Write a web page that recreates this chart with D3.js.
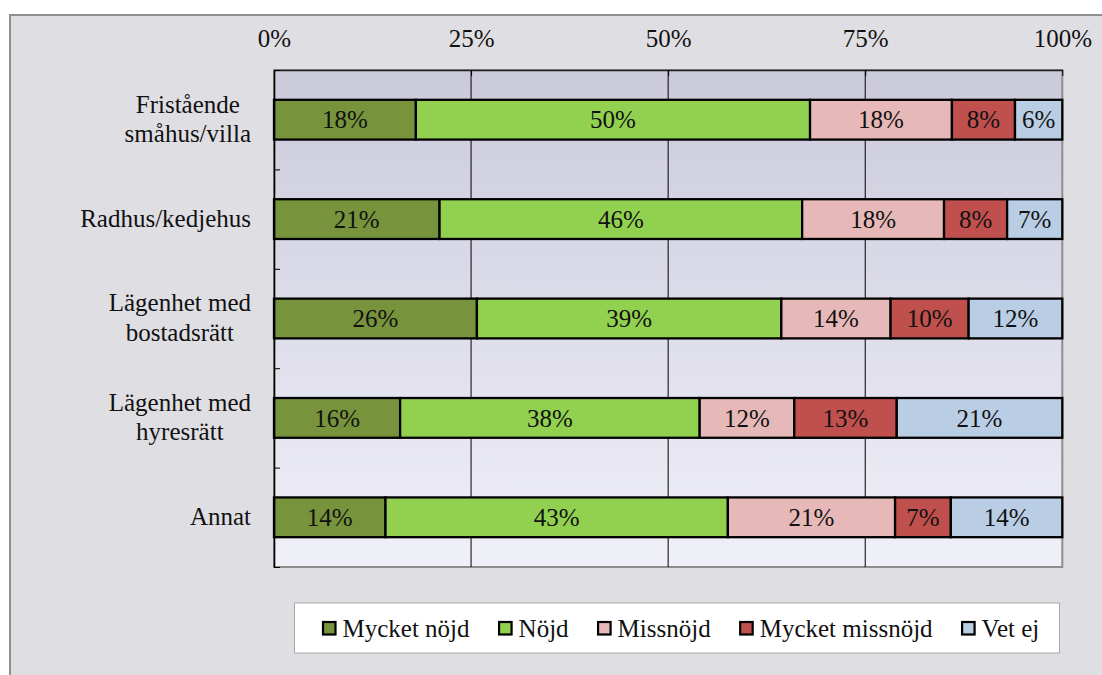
<!DOCTYPE html>
<html lang="sv">
<head>
<meta charset="utf-8">
<script src="https://cdn.jsdelivr.net/npm/d3@7"></script>
<style>
  html, body { margin: 0; padding: 0; background: #ffffff; }
  svg { display: block; }
  text { font-family: "Liberation Serif", "Tinos", "Times New Roman", "DejaVu Serif", serif; fill: #111; }
</style>
</head>
<body>
<svg id="chart" width="1102" height="675"></svg>
<script>
// Boendeform och nöjdhet (andel svar per kategori)
const categories = [
  "Fristående\nsmåhus/villa",
  "Radhus/kedjehus",
  "Lägenhet med\nbostadsrätt",
  "Lägenhet med\nhyresrätt",
  "Annat"
];
const seriesNames = ["Mycket nöjd", "Nöjd", "Missnöjd", "Mycket missnöjd", "Vet ej"];
const mycketNojd     = [18, 21, 26, 16, 14];
const nojd           = [50, 46, 39, 38, 43];
const missnojd       = [18, 18, 14, 12, 21];
const mycketMissnojd = [8, 8, 10, 13, 7];
const vetEj          = [6, 7, 12, 21, 14];
const tickLabels = ["0%", "25%", "50%", "75%", "100%"];
const seriesColors = ["#77933c", "#92d050", "#e6b9b8", "#c0504d", "#b9cde5"];

const FONT = "'Liberation Serif', 'Tinos', 'Times New Roman', 'DejaVu Serif', serif";

const seriesValues = [mycketNojd, nojd, missnojd, mycketMissnojd, vetEj];
const rows = categories.map((c, i) => {
  const r = { category: c };
  seriesNames.forEach((s, k) => { r[s] = seriesValues[k][i]; });
  return r;
});

const svg = d3.select("#chart");

// Diagramyta
svg.append("rect")
  .attr("x", 10).attr("y", 15).attr("width", 1110).attr("height", 680)
  .attr("fill", "#dfdee3").attr("stroke", "#8f8f8f").attr("stroke-width", 2);

const plot = { left: 274, top: 70, right: 1062.3, bottom: 567 };

const x = d3.scaleLinear().domain([0, 1]).range([plot.left, plot.right]);
const y = d3.scaleBand().domain(categories).range([plot.top, plot.bottom])
  .paddingInner(0.6).paddingOuter(0.3);

// Bakgrund med gradient
const defs = svg.append("defs");
const grad = defs.append("linearGradient").attr("id", "plotBg")
  .attr("x1", 0).attr("y1", 0).attr("x2", 0).attr("y2", 1);
grad.append("stop").attr("offset", "0%").attr("stop-color", "#cbcadb");
grad.append("stop").attr("offset", "100%").attr("stop-color", "#f0f0f9");

svg.append("rect")
  .attr("x", plot.left).attr("y", plot.top)
  .attr("width", plot.right - plot.left).attr("height", plot.bottom - plot.top)
  .attr("fill", "url(#plotBg)")
  .attr("stroke", "#8e8e8e").attr("stroke-width", 2);

const tickValues = tickLabels.map(t => parseFloat(t) / 100);

// Stödlinjer
svg.append("g").selectAll("line")
  .data(tickValues.slice(1, -1))
  .join("line")
  .attr("x1", d => x(d)).attr("x2", d => x(d))
  .attr("y1", plot.top).attr("y2", plot.bottom)
  .attr("stroke", "#000").attr("stroke-width", 1);

// Staplar
const stack = d3.stack().keys(seriesNames).offset(d3.stackOffsetExpand);
const stacked = stack(rows);

const layers = svg.append("g").selectAll("g")
  .data(stacked)
  .join("g")
  .attr("fill", (d, i) => seriesColors[i]);

layers.selectAll("rect")
  .data(d => d.map(p => ({ p, key: d.key })))
  .join("rect")
  .attr("x", d => x(d.p[0]))
  .attr("y", d => y(d.p.data.category))
  .attr("width", d => x(d.p[1]) - x(d.p[0]))
  .attr("height", y.bandwidth())
  .attr("stroke", "#000").attr("stroke-width", 2.3);

layers.selectAll("text")
  .data(d => d.map(p => ({ p, key: d.key })))
  .join("text")
  .attr("x", d => (x(d.p[0]) + x(d.p[1])) / 2)
  .attr("y", d => y(d.p.data.category) + y.bandwidth() / 2)
  .attr("dy", "0.35em")
  .attr("text-anchor", "middle")
  .attr("font-size", 25)
  .text(d => d.p.data[d.key] + "%");

// Övre axel
const xAxis = d3.axisTop(x)
  .tickValues(tickValues)
  .tickFormat((d, i) => tickLabels[i])
  .tickSize(-6).tickSizeOuter(0).tickPadding(23);

const gx = svg.append("g")
  .attr("transform", `translate(0,${plot.top})`)
  .call(xAxis)
  .attr("font-family", FONT);
gx.select(".domain").attr("stroke", "#222").attr("stroke-width", 1.6);
gx.selectAll(".tick line").attr("stroke", "#000").attr("stroke-width", 1);
gx.selectAll(".tick text")
  .attr("font-size", 25).attr("fill", "#111");

// Vänster axel med kategorier
const yBounds = d3.range(categories.length + 1);
const yLin = d3.scaleLinear().domain([0, categories.length]).range([plot.top, plot.bottom]);
const gy = svg.append("g")
  .attr("transform", `translate(${plot.left},0)`)
  .call(d3.axisLeft(yLin).tickValues(yBounds).tickFormat("").tickSize(-6).tickSizeOuter(0));
gy.select(".domain").attr("stroke", "#000").attr("stroke-width", 1.6);
gy.selectAll(".tick line").attr("stroke", "#000").attr("stroke-width", 1);

const lineH = 29.5;
const catLabels = svg.append("g").selectAll("text")
  .data(categories)
  .join("text")
  .attr("font-size", 25)
  .attr("transform", d => `translate(251,${y(d) + y.bandwidth() / 2 + 7.7})`);

catLabels.each(function (d) {
  const lines = d.split("\n");
  const t = d3.select(this);
  lines.forEach((ln, i) => {
    t.append("tspan")
      .attr("x", 0)
      .attr("y", (i - (lines.length - 1) / 2) * lineH)
      .attr("text-anchor", "middle")
      .text(ln);
  });
});
// Flerradiga etiketter centreras inbördes, blocket högerjusteras mot axeln
catLabels.each(function () {
  const spans = d3.select(this).selectAll("tspan").nodes();
  const maxW = d3.max(spans, s => s.getComputedTextLength());
  spans.forEach(s => d3.select(s).attr("x", -maxW / 2));
});

// Teckenförklaring
const legend = svg.append("g");
legend.append("rect")
  .attr("x", 294.5).attr("y", 603).attr("width", 765).attr("height", 50)
  .attr("fill", "#ffffff").attr("stroke", "#ababab").attr("stroke-width", 1);

let lx = 322;
const gap = 28.5;
seriesNames.forEach((name, i) => {
  const item = legend.append("g").attr("transform", `translate(${lx},0)`);
  item.append("rect")
    .attr("x", 1).attr("y", 622).attr("width", 12.5).attr("height", 12.5)
    .attr("fill", seriesColors[i]).attr("stroke", "#000").attr("stroke-width", 2.2);
  const txt = item.append("text")
    .attr("x", 20.5).attr("y", 636.5)
    .attr("font-size", 25)
    .text(name);
  lx += 20.5 + txt.node().getComputedTextLength() + gap;
});
</script>
</body>
</html>
